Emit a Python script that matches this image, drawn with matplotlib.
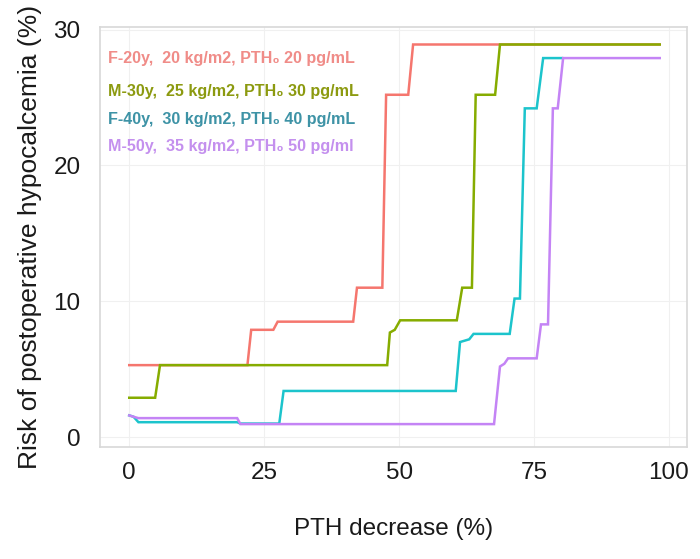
import numpy as np
import matplotlib
matplotlib.use("Agg")
import matplotlib.pyplot as plt

plt.rcParams['font.family'] = ['Liberation Sans', 'DejaVu Sans']

# step curves: PTH decrease (%) vs risk (%)
f20_x = [0, 21.9, 22.6, 26.7, 27.5, 41.5, 42.2, 46.9, 47.6, 51.7, 52.6, 98.3]
f20_y = [5.3, 5.3, 7.9, 7.9, 8.5, 8.5, 11.0, 11.0, 25.2, 25.2, 28.9, 28.9]

m30_x = [0, 4.8, 5.7, 47.8, 48.3, 49.2, 50.2, 60.7, 61.7, 63.5, 64.2, 67.8, 68.7, 98.3]
m30_y = [2.9, 2.9, 5.3, 5.3, 7.7, 7.9, 8.6, 8.6, 11.0, 11.0, 25.2, 25.2, 28.9, 28.9]

f40_x = [0, 0.8, 1.7, 20.0, 20.6, 27.8, 28.6, 60.5, 61.3, 63.0, 63.8, 70.5, 71.4, 72.4, 73.3, 75.5, 76.7, 80.2]
f40_y = [1.6, 1.5, 1.1, 1.1, 1.0, 1.0, 3.4, 3.4, 7.0, 7.2, 7.6, 7.6, 10.2, 10.2, 24.2, 24.2, 27.9, 27.9]

m50_x = [0, 0.8, 1.7, 20.0, 20.6, 67.6, 68.7, 69.5, 70.2, 75.5, 76.3, 77.6, 78.5, 79.4, 80.4, 98.3]
m50_y = [1.6, 1.5, 1.4, 1.4, 0.96, 0.96, 5.2, 5.4, 5.8, 5.8, 8.3, 8.3, 24.2, 24.2, 27.9, 27.9]

labels = [
    "F-20y,  20 kg/m2, PTH\u2080 20 pg/mL",
    "M-30y,  25 kg/m2, PTH\u2080 30 pg/mL",
    "F-40y,  30 kg/m2, PTH\u2080 40 pg/mL",
    "M-50y,  35 kg/m2, PTH\u2080 50 pg/ml",
]
line_cols = ["#F5766E", "#86AC00", "#1CC4CC", "#C484F5"]
text_cols = ["#F08C88", "#8C9A10", "#3E93A6", "#C490EE"]

fig = plt.figure(figsize=(7, 5.59), dpi=100)
ax = fig.add_axes([0.143, 0.2, 0.838, 0.752])

series = [(f20_x, f20_y), (m30_x, m30_y), (f40_x, f40_y), (m50_x, m50_y)]
for (xs, ys), c in zip(series, line_cols):
    ax.plot(xs, ys, color=c, lw=1.8, solid_joinstyle='miter')

ax.set_xlim(-5.4, 103.3)
ax.set_ylim(-0.74, 30.2)
ax.set_xticks([0, 25, 50, 75, 100])
ax.set_yticks([0, 10, 20, 30])
ax.grid(True, color="#F0F0F0", lw=0.8)
ax.set_axisbelow(True)
for s in ax.spines.values():
    s.set_color("#D8D8D8")
    s.set_linewidth(1.2)
ax.tick_params(axis='both', length=0, labelsize=17.5, colors="#1a1a1a")
ax.tick_params(axis='y', pad=14)
ax.tick_params(axis='x', pad=11)

ax.set_xlabel("PTH decrease (%)", fontsize=17.5, labelpad=24, color="#1a1a1a")
ax.set_ylabel("Risk of postoperative hypocalcemia (%)", fontsize=19, labelpad=8, color="#1a1a1a")

ys_txt = [0.925, 0.845, 0.78, 0.715]
for lab, c, yy in zip(labels, text_cols, ys_txt):
    ax.text(0.014, yy, lab, transform=ax.transAxes, color=c, fontsize=11.6,
            fontweight='bold', va='center', ha='left')

fig.savefig("out.png", dpi=100)
